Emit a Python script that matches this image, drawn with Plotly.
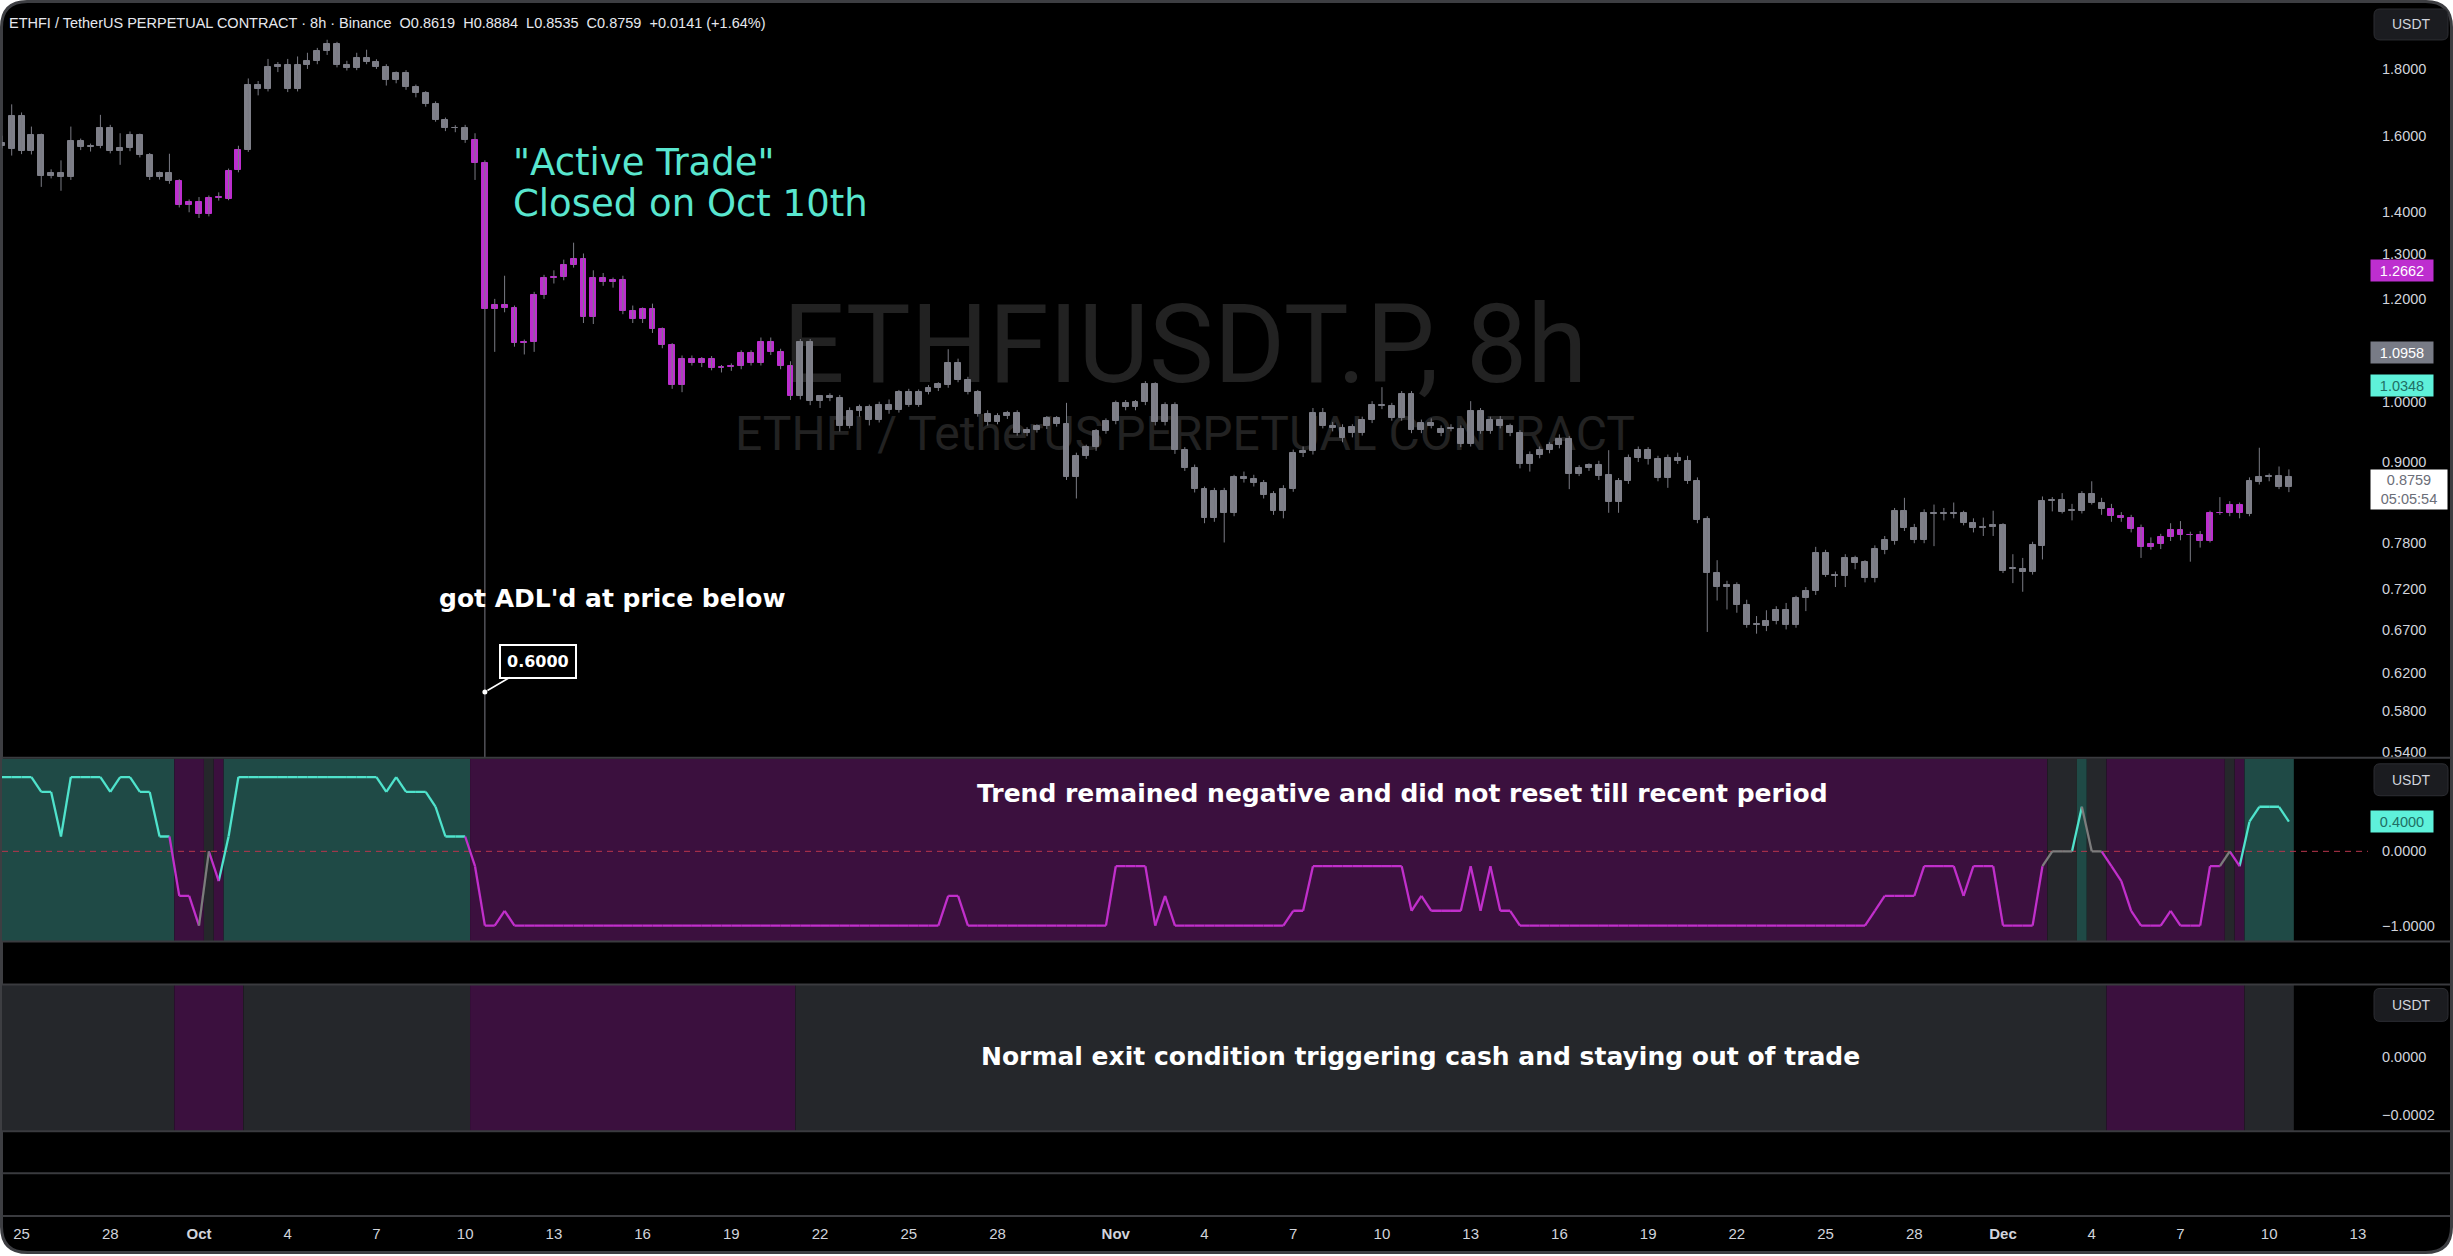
import math
import plotly.graph_objects as go
import pandas as pd

W, H = 2453, 1256

# ---------------- data ----------------
BAR_START = "2025-09-24 08:00"
BAR_FREQ = "8h"

opens = [
    1.580, 1.563, 1.658, 1.557, 1.601, 1.491, 1.497, 1.488, 1.584, 1.568,
    1.572, 1.623, 1.557, 1.565, 1.601, 1.547, 1.489, 1.497, 1.476, 1.417,
    1.424, 1.394, 1.434, 1.432, 1.505, 1.561, 1.751, 1.738, 1.807, 1.812,
    1.738, 1.812, 1.825, 1.858, 1.880, 1.812, 1.803, 1.836, 1.822, 1.807,
    1.765, 1.786, 1.744, 1.724, 1.693, 1.645, 1.623, 1.621, 1.588, 1.526,
    1.178, 1.187, 1.180, 1.110, 1.113, 1.209, 1.245, 1.247, 1.274, 1.287,
    1.162, 1.245, 1.236, 1.240, 1.175, 1.158, 1.178, 1.137, 1.106, 1.031,
    1.079, 1.072, 1.079, 1.063, 1.065, 1.066, 1.090, 1.072, 1.113, 1.093,
    1.066, 1.011, 1.112, 1.002, 1.011, 1.008, 0.959, 0.985, 0.991, 0.969,
    0.996, 0.987, 1.019, 0.996, 1.019, 1.026, 1.031, 1.072, 1.040, 1.018,
    0.980, 0.966, 0.976, 0.981, 0.947, 0.953, 0.959, 0.972, 0.962, 0.877,
    0.910, 0.924, 0.951, 0.968, 0.998, 0.991, 1.000, 1.032, 0.966, 0.996,
    0.919, 0.891, 0.858, 0.816, 0.855, 0.823, 0.876, 0.874, 0.867, 0.850,
    0.826, 0.859, 0.915, 0.918, 0.982, 0.959, 0.955, 0.947, 0.947, 0.969,
    0.995, 0.994, 0.972, 1.015, 0.952, 0.965, 0.954, 0.955, 0.954, 0.929,
    0.984, 0.951, 0.970, 0.959, 0.947, 0.897, 0.912, 0.920, 0.927, 0.938,
    0.882, 0.890, 0.8955, 0.879, 0.839, 0.870, 0.906, 0.919, 0.905, 0.875,
    0.907, 0.901, 0.871, 0.814, 0.740, 0.722, 0.724, 0.700, 0.675, 0.674,
    0.680, 0.693, 0.675, 0.708, 0.717, 0.766, 0.738, 0.736, 0.760, 0.754,
    0.733, 0.771, 0.783, 0.825, 0.801, 0.784, 0.8225, 0.8215, 0.8225, 0.822,
    0.809, 0.801, 0.802, 0.805, 0.745, 0.745, 0.742, 0.776, 0.840, 0.842,
    0.825, 0.826, 0.850, 0.837, 0.829, 0.819, 0.816, 0.801, 0.775, 0.779,
    0.788, 0.799, 0.792, 0.792, 0.783, 0.823, 0.822, 0.834, 0.821, 0.869,
    0.876, 0.878, 0.8619,
]
highs = [
    1.600, 1.691, 1.667, 1.626, 1.606, 1.508, 1.532, 1.626, 1.592, 1.578,
    1.660, 1.631, 1.607, 1.612, 1.606, 1.552, 1.502, 1.550, 1.482, 1.430,
    1.436, 1.440, 1.448, 1.510, 1.572, 1.770, 1.762, 1.832, 1.822, 1.832,
    1.840, 1.852, 1.868, 1.895, 1.888, 1.826, 1.852, 1.862, 1.831, 1.815,
    1.792, 1.796, 1.751, 1.731, 1.700, 1.652, 1.630, 1.631, 1.607, 1.532,
    1.200, 1.250, 1.186, 1.117, 1.215, 1.252, 1.262, 1.286, 1.325, 1.300,
    1.262, 1.256, 1.246, 1.250, 1.186, 1.182, 1.190, 1.141, 1.110, 1.086,
    1.086, 1.083, 1.085, 1.068, 1.071, 1.096, 1.096, 1.121, 1.121, 1.099,
    1.075, 1.118, 1.118, 1.013, 1.016, 1.013, 0.991, 0.996, 0.996, 1.001,
    1.005, 1.022, 1.024, 1.023, 1.031, 1.036, 1.098, 1.080, 1.046, 1.022,
    0.986, 0.981, 0.985, 0.986, 0.957, 0.962, 0.976, 0.976, 0.999, 0.915,
    0.928, 0.954, 0.972, 1.003, 1.004, 1.004, 1.038, 1.036, 1.000, 1.000,
    0.924, 0.896, 0.862, 0.860, 0.860, 0.880, 0.885, 0.880, 0.872, 0.855,
    0.864, 0.920, 0.925, 0.990, 0.990, 0.966, 0.962, 0.962, 0.975, 1.002,
    1.027, 0.999, 1.020, 1.020, 0.970, 0.972, 0.960, 0.962, 0.960, 1.002,
    0.990, 0.975, 0.976, 0.963, 0.952, 0.917, 0.925, 0.932, 0.945, 0.942,
    0.895, 0.898, 0.902, 0.919, 0.875, 0.912, 0.925, 0.924, 0.910, 0.912,
    0.915, 0.910, 0.876, 0.818, 0.757, 0.730, 0.728, 0.706, 0.686, 0.693,
    0.698, 0.702, 0.711, 0.722, 0.775, 0.771, 0.742, 0.765, 0.763, 0.757,
    0.777, 0.790, 0.830, 0.845, 0.807, 0.828, 0.835, 0.830, 0.838, 0.826,
    0.815, 0.816, 0.826, 0.808, 0.765, 0.760, 0.782, 0.847, 0.846, 0.852,
    0.836, 0.855, 0.870, 0.845, 0.836, 0.824, 0.820, 0.806, 0.788, 0.793,
    0.808, 0.811, 0.796, 0.797, 0.826, 0.846, 0.840, 0.838, 0.876, 0.923,
    0.882, 0.893, 0.8884,
]
lows = [
    1.565, 1.545, 1.549, 1.548, 1.462, 1.484, 1.452, 1.480, 1.560, 1.556,
    1.565, 1.551, 1.520, 1.557, 1.540, 1.480, 1.481, 1.470, 1.410, 1.398,
    1.384, 1.388, 1.427, 1.428, 1.500, 1.555, 1.718, 1.730, 1.790, 1.728,
    1.730, 1.800, 1.815, 1.845, 1.805, 1.795, 1.796, 1.815, 1.800, 1.748,
    1.755, 1.735, 1.712, 1.684, 1.640, 1.613, 1.610, 1.580, 1.480, 0.250,
    1.093, 1.172, 1.103, 1.088, 1.093, 1.200, 1.233, 1.240, 1.268, 1.150,
    1.148, 1.228, 1.224, 1.168, 1.150, 1.150, 1.130, 1.100, 1.024, 1.018,
    1.067, 1.064, 1.058, 1.054, 1.057, 1.060, 1.067, 1.067, 1.087, 1.060,
    1.004, 1.005, 0.995, 0.990, 1.002, 0.950, 0.955, 0.975, 0.960, 0.965,
    0.980, 0.982, 0.992, 0.992, 1.014, 1.020, 1.026, 1.036, 1.014, 0.975,
    0.960, 0.962, 0.971, 0.943, 0.942, 0.948, 0.954, 0.958, 0.872, 0.844,
    0.905, 0.918, 0.946, 0.962, 0.986, 0.986, 0.995, 0.960, 0.960, 0.913,
    0.886, 0.853, 0.808, 0.810, 0.781, 0.818, 0.868, 0.862, 0.844, 0.820,
    0.815, 0.854, 0.908, 0.912, 0.955, 0.950, 0.932, 0.940, 0.943, 0.964,
    0.988, 0.968, 0.968, 0.947, 0.947, 0.955, 0.942, 0.950, 0.924, 0.925,
    0.946, 0.946, 0.955, 0.942, 0.890, 0.885, 0.906, 0.914, 0.922, 0.858,
    0.878, 0.886, 0.872, 0.823, 0.823, 0.866, 0.900, 0.896, 0.870, 0.860,
    0.897, 0.866, 0.808, 0.667, 0.705, 0.694, 0.690, 0.672, 0.665, 0.668,
    0.676, 0.670, 0.672, 0.692, 0.712, 0.735, 0.722, 0.722, 0.745, 0.728,
    0.728, 0.765, 0.778, 0.797, 0.780, 0.780, 0.776, 0.812, 0.815, 0.805,
    0.795, 0.790, 0.790, 0.740, 0.727, 0.716, 0.738, 0.758, 0.825, 0.822,
    0.812, 0.822, 0.835, 0.820, 0.810, 0.810, 0.795, 0.760, 0.771, 0.772,
    0.783, 0.784, 0.755, 0.774, 0.781, 0.820, 0.818, 0.815, 0.818, 0.865,
    0.870, 0.858, 0.8535,
]
closes = [
    1.572, 1.658, 1.557, 1.601, 1.491, 1.497, 1.488, 1.584, 1.568, 1.572,
    1.623, 1.557, 1.565, 1.601, 1.547, 1.489, 1.497, 1.476, 1.417, 1.424,
    1.394, 1.434, 1.437, 1.503, 1.561, 1.751, 1.738, 1.807, 1.812, 1.738,
    1.812, 1.825, 1.858, 1.880, 1.812, 1.803, 1.836, 1.822, 1.807, 1.765,
    1.786, 1.744, 1.724, 1.693, 1.645, 1.623, 1.621, 1.588, 1.526, 1.178,
    1.187, 1.180, 1.110, 1.113, 1.209, 1.245, 1.247, 1.274, 1.287, 1.162,
    1.245, 1.236, 1.240, 1.175, 1.158, 1.178, 1.137, 1.106, 1.031, 1.079,
    1.072, 1.079, 1.063, 1.065, 1.066, 1.090, 1.072, 1.113, 1.093, 1.066,
    1.011, 1.112, 1.002, 1.011, 1.008, 0.959, 0.985, 0.991, 0.969, 0.996,
    0.987, 1.019, 0.996, 1.019, 1.026, 1.032, 1.072, 1.040, 1.018, 0.980,
    0.966, 0.976, 0.981, 0.947, 0.953, 0.959, 0.972, 0.962, 0.877, 0.910,
    0.924, 0.951, 0.968, 0.998, 0.991, 1.000, 1.032, 0.966, 0.996, 0.919,
    0.891, 0.858, 0.816, 0.855, 0.823, 0.876, 0.874, 0.867, 0.849, 0.826,
    0.859, 0.915, 0.918, 0.982, 0.959, 0.955, 0.939, 0.958, 0.969, 0.995,
    0.994, 0.972, 1.015, 0.952, 0.965, 0.959, 0.947, 0.954, 0.929, 0.984,
    0.951, 0.970, 0.959, 0.947, 0.897, 0.912, 0.920, 0.927, 0.938, 0.882,
    0.890, 0.895, 0.878, 0.839, 0.871, 0.907, 0.919, 0.905, 0.875, 0.907,
    0.901, 0.871, 0.813, 0.740, 0.722, 0.724, 0.700, 0.675, 0.676, 0.680,
    0.693, 0.675, 0.708, 0.717, 0.766, 0.738, 0.736, 0.760, 0.753, 0.733,
    0.772, 0.785, 0.825, 0.801, 0.784, 0.823, 0.8215, 0.8225, 0.8215, 0.808,
    0.801, 0.802, 0.805, 0.743, 0.746, 0.742, 0.778, 0.840, 0.842, 0.824,
    0.827, 0.850, 0.837, 0.829, 0.819, 0.816, 0.800, 0.775, 0.779, 0.788,
    0.799, 0.791, 0.791, 0.783, 0.823, 0.822, 0.834, 0.822, 0.871, 0.876,
    0.878, 0.8618, 0.8759,
]

# bar colouring state: g = in trade (grey), m = out of trade (magenta)
candle_state_runs = [("g", 18), ("m", 7), ("g", 23), ("m", 33), ("g", 133), ("m", 14), ("g", 5)]
# trend oscillator background state: g = positive, m = negative, n = neutral
trend_bg_runs = [("g", 18), ("m", 3), ("n", 1), ("m", 1), ("g", 25), ("m", 160), ("n", 3),
                 ("g", 1), ("n", 2), ("m", 12), ("n", 1), ("m", 1), ("g", 5)]
# exit-condition pane background: n = normal, m = exit/cash
exit_bg_runs = [("n", 18), ("m", 7), ("n", 23), ("m", 33), ("n", 133), ("m", 14), ("n", 5)]

trend_values = [
    1, 1, 1, 1, 0.8, 0.8, 0.2, 1, 1, 1,
    1, 0.8, 1, 1, 0.8, 0.8, 0.2, 0.2, -0.6, -0.6,
    -1, 0, -0.4, 0.2, 1, 1, 1, 1, 1, 1,
    1, 1, 1, 1, 1, 1, 1, 1, 1, 0.8,
    1, 0.8, 0.8, 0.8, 0.6, 0.2, 0.2, 0.2, -0.2, -1,
    -1, -0.8, -1, -1, -1, -1, -1, -1, -1, -1,
    -1, -1, -1, -1, -1, -1, -1, -1, -1, -1,
    -1, -1, -1, -1, -1, -1, -1, -1, -1, -1,
    -1, -1, -1, -1, -1, -1, -1, -1, -1, -1,
    -1, -1, -1, -1, -1, -1, -0.6, -0.6, -1, -1,
    -1, -1, -1, -1, -1, -1, -1, -1, -1, -1,
    -1, -1, -1, -0.2, -0.2, -0.2, -0.2, -1, -0.6, -1,
    -1, -1, -1, -1, -1, -1, -1, -1, -1, -1,
    -1, -0.8, -0.8, -0.2, -0.2, -0.2, -0.2, -0.2, -0.2, -0.2,
    -0.2, -0.2, -0.2, -0.8, -0.6, -0.8, -0.8, -0.8, -0.8, -0.2,
    -0.8, -0.2, -0.8, -0.8, -1, -1, -1, -1, -1, -1,
    -1, -1, -1, -1, -1, -1, -1, -1, -1, -1,
    -1, -1, -1, -1, -1, -1, -1, -1, -1, -1,
    -1, -1, -1, -1, -1, -1, -1, -1, -1, -1,
    -0.8, -0.6, -0.6, -0.6, -0.6, -0.2, -0.2, -0.2, -0.2, -0.6,
    -0.2, -0.2, -0.2, -1, -1, -1, -1, -0.2, 0, 0,
    0, 0.6, 0, 0, -0.2, -0.4, -0.8, -1, -1, -1,
    -0.8, -1, -1, -1, -0.2, -0.2, 0, -0.2, 0.4, 0.6,
    0.6, 0.6, 0.4,
]

adl_bar_index = 49
adl_price = 0.6

price_ticks = [0.54, 0.58, 0.62, 0.67, 0.72, 0.78, 0.90, 1.00, 1.20, 1.30, 1.40, 1.60, 1.80]
price_tick_text = ["0.5400", "0.5800", "0.6200", "0.6700", "0.7200", "0.7800", "0.9000",
                   "1.0000", "1.2000", "1.3000", "1.4000", "1.6000", "1.8000"]
x_tick_dates = ["2025-09-25", "2025-09-28", "2025-10-01", "2025-10-04", "2025-10-07", "2025-10-10",
                "2025-10-13", "2025-10-16", "2025-10-19", "2025-10-22", "2025-10-25", "2025-10-28",
                "2025-11-01", "2025-11-04", "2025-11-07", "2025-11-10", "2025-11-13", "2025-11-16",
                "2025-11-19", "2025-11-22", "2025-11-25", "2025-11-28", "2025-12-01", "2025-12-04",
                "2025-12-07", "2025-12-10", "2025-12-13"]
x_tick_text = ["25", "28", "<b>Oct</b>", "4", "7", "10", "13", "16", "19", "22", "25", "28",
               "<b>Nov</b>", "4", "7", "10", "13", "16", "19", "22", "25", "28",
               "<b>Dec</b>", "4", "7", "10", "13"]

header_text = ("ETHFI / TetherUS PERPETUAL CONTRACT · 8h · Binance\u00a0\u00a0O0.8619\u00a0\u00a0H0.8884"
               "\u00a0\u00a0L0.8535\u00a0\u00a0C0.8759\u00a0\u00a0+0.0141 (+1.64%)")

# ---------------- styling / geometry ----------------
C_GREY = "#7e7f88"
C_MAG = "#bd2ecf"
C_WICK = "#7a7b84"
C_TEAL = "#4fe3cc"
C_LMAG = "#c12fcb"
C_LGREY = "#7c7c7c"
BG = {"g": "#1f4a46", "m": "#3b103e", "n": "#25272b"}
LINE_COL = {"g": C_TEAL, "m": C_LMAG, "n": C_LGREY}
AX_FONT = "Liberation Sans"
AX_COL = "#d1d4dc"

PANE_L, PANE_R = 2, 2368
PRICE_T, PRICE_B = 3, 759
OSC_T, OSC_B = 760, 943
EXIT_T, EXIT_B = 986, 1133
XAXIS_Y = 1218


def fx(px):
    return px / W


def fy(py):
    return 1 - py / H


def expand(runs):
    out = []
    for s, n in runs:
        out.extend([s] * n)
    return out


OCT1 = pd.Timestamp("2025-10-01")
PX_PER_DAY = 29.574


def px2t(px):
    return OCT1 + pd.Timedelta(days=(px - 199) / PX_PER_DAY)


def log_at(py):
    return 0.2553 - (py - 69) / 1308


times = pd.date_range(BAR_START, periods=len(opens), freq=BAR_FREQ)
half = pd.Timedelta(hours=4)
candle_state = expand(candle_state_runs)
trend_state = expand(trend_bg_runs)
exit_state = expand(exit_bg_runs)

fig = go.Figure()


def rrect_path(x0, y0, x1, y1, r):
    P = lambda x, y: f"{x / W:.6f},{1 - y / H:.6f}"
    return (f"M {P(x0 + r, y0)} L {P(x1 - r, y0)} Q {P(x1, y0)} {P(x1, y0 + r)} "
            f"L {P(x1, y1 - r)} Q {P(x1, y1)} {P(x1 - r, y1)} L {P(x0 + r, y1)} "
            f"Q {P(x0, y1)} {P(x0, y1 - r)} L {P(x0, y0 + r)} Q {P(x0, y0)} {P(x0 + r, y0)} Z")


# frame (rounded black card)
fig.add_shape(type="path", xref="paper", yref="paper", path=rrect_path(1.5, 1.5, 2451.5, 1254.5, 26),
              fillcolor="#000000", line=dict(color="#3d3e42", width=3), layer="below")

# watermark (below the candles)
fig.add_shape(type="rect", xref="paper", yref="paper", x0=fx(500), x1=fx(1870), y0=fy(390), y1=fy(286),
              line=dict(width=0), fillcolor="rgba(0,0,0,0)", layer="below",
              label=dict(text="ETHFIUSDT.P, 8h", textposition="middle center",
                         font=dict(family="Roboto", size=109, color="#222222")))
fig.add_shape(type="rect", xref="paper", yref="paper", x0=fx(500), x1=fx(1870), y0=fy(458), y1=fy(404),
              line=dict(width=0), fillcolor="rgba(0,0,0,0)", layer="below",
              label=dict(text="ETHFI / TetherUS PERPETUAL CONTRACT", textposition="middle center",
                         font=dict(family="Roboto", size=48, color="#222222")))


# pane backgrounds
def add_bg(states, yref):
    start = 0
    for i in range(1, len(states) + 1):
        if i == len(states) or states[i] != states[start]:
            fig.add_shape(type="rect", xref="x", yref=yref, x0=times[start] - half, x1=times[i - 1] + half,
                          y0=0, y1=1, fillcolor=BG[states[start]], line=dict(width=0), layer="below")
            start = i


add_bg(trend_state, "y2 domain")
add_bg(exit_state, "y3 domain")

# zero dashed line in oscillator pane
fig.add_shape(type="line", xref="x domain", yref="y2", x0=0, x1=1, y0=0, y1=0,
              line=dict(color="#b8364c", width=1, dash="6px,5px"), layer="below")

# separators
for yy in [PRICE_B, OSC_B, EXIT_T, EXIT_B, 1175, XAXIS_Y]:
    fig.add_shape(type="line", xref="paper", yref="paper", x0=fx(2), x1=fx(2451), y0=fy(yy), y1=fy(yy),
                  line=dict(color="#3a3b3f", width=2))

# ---------------- price candles ----------------
wx, wy = [], []
for t, lo, hi in zip(times, lows, highs):
    wx += [t, t, None]
    wy += [lo, hi, None]
fig.add_trace(go.Scatter(x=wx, y=wy, mode="lines", line=dict(color=C_WICK, width=1),
                         hoverinfo="skip", xaxis="x", yaxis="y"))

for state, col in [("g", C_GREY), ("m", C_MAG)]:
    idx = [i for i, s in enumerate(candle_state) if s == state]
    base = [min(opens[i], closes[i]) for i in idx]
    size = [abs(closes[i] - opens[i]) for i in idx]
    fig.add_trace(go.Bar(x=[times[i] for i in idx], y=size, base=base,
                         width=0.60 * 8 * 3600 * 1000,
                         marker=dict(color=col, line=dict(color=col, width=1)),
                         hoverinfo="skip", xaxis="x", yaxis="y"))

# ADL marker point
fig.add_trace(go.Scatter(x=[times[adl_bar_index]], y=[adl_price], mode="markers",
                         marker=dict(color="#ffffff", size=5), hoverinfo="skip", xaxis="x", yaxis="y"))

# ---------------- trend oscillator ----------------
for state in ["g", "m", "n"]:
    xs, ys = [], []
    for i in range(1, len(trend_values)):
        if trend_state[i] == state:
            xs += [times[i - 1], times[i], None]
            ys += [trend_values[i - 1], trend_values[i], None]
    fig.add_trace(go.Scatter(x=xs, y=ys, mode="lines", line=dict(color=LINE_COL[state], width=2.3),
                             hoverinfo="skip", xaxis="x", yaxis="y2"))

# invisible trace so the third pane's axis renders
fig.add_trace(go.Scatter(x=[times[0]], y=[0], mode="markers", marker=dict(size=2, opacity=0),
                         hoverinfo="skip", xaxis="x", yaxis="y3"))

# ---------------- layout ----------------
yax_common = dict(side="right", anchor="x", showgrid=False, zeroline=False, showline=False,
                  ticks="", ticklabelstandoff=13, tickfont=dict(family=AX_FONT, size=14.5, color=AX_COL),
                  fixedrange=True)

fig.update_layout(
    width=W, height=H, margin=dict(l=0, r=0, t=0, b=0),
    paper_bgcolor="#ffffff", plot_bgcolor="rgba(0,0,0,0)",
    showlegend=False, barmode="overlay", bargap=0, hovermode=False,
    xaxis=dict(type="date", domain=[fx(PANE_L), fx(PANE_R)], range=[px2t(PANE_L), px2t(PANE_R)],
               anchor="free", position=fy(XAXIS_Y), showgrid=False, zeroline=False, showline=False,
               tickvals=x_tick_dates, ticktext=x_tick_text, ticks="", ticklabelstandoff=7,
               tickfont=dict(family=AX_FONT, size=15, color=AX_COL), rangeslider=dict(visible=False)),
    yaxis=dict(type="log", domain=[fy(PRICE_B), fy(PRICE_T)],
               range=[log_at(PRICE_B), log_at(PRICE_T)],
               tickvals=price_ticks, ticktext=price_tick_text, **yax_common),
    yaxis2=dict(domain=[fy(OSC_B), fy(OSC_T)], range=[-(OSC_B - 852.7) / 74.4, (852.7 - OSC_T) / 74.4],
                tickvals=[0, -1], ticktext=["0.0000", "\u22121.0000"], **yax_common),
    yaxis3=dict(domain=[fy(EXIT_B), fy(EXIT_T)],
                range=[-(EXIT_B - 1059) / 58 * 0.0002, (1059 - EXIT_T) / 58 * 0.0002],
                tickvals=[0, -0.0002], ticktext=["0.0000", "\u22120.0002"], **yax_common),
)


# ---------------- texts ----------------
def note(x, y, text, size, color, family="DejaVu Sans", xanchor="left", **kw):
    fig.add_annotation(x=fx(x), y=fy(y), xref="paper", yref="paper", text=text, showarrow=False,
                       font=dict(size=size, color=color, family=family), xanchor=xanchor,
                       yanchor="middle", **kw)


note(7, 23, header_text, 14.5, "#e6e8ee", family=AX_FONT)
note(511, 163, "\"Active Trade\"", 37, "#59e6cf")
note(511, 204, "Closed on Oct 10th", 37, "#59e6cf")
note(437, 599, "<b>got ADL'd at price below</b>", 25, "#ffffff")
note(1402, 795, "<b>Trend remained negative and did not reset till recent period</b>", 25, "#ffffff",
     xanchor="center")
note(1420, 1058, "<b>Normal exit condition triggering cash and staying out of trade</b>", 25, "#ffffff",
     xanchor="center")

# ADL callout (annotation y is given in log10 units on a log axis)
fig.add_annotation(x=times[adl_bar_index], y=math.log10(adl_price), xref="x", yref="y",
                   text="<b>0.6000</b>", showarrow=True, arrowhead=0, arrowwidth=1.5, arrowcolor="#ffffff",
                   ax=53, ay=-31, font=dict(size=16, color="#ffffff", family="DejaVu Sans"),
                   bgcolor="#000000", bordercolor="#ffffff", borderwidth=2, borderpad=6, standoff=3)


# price-scale value labels
def scale_label(y_center, text, bg, fg, h=21, w=62):
    fig.add_annotation(x=fx(2370), y=fy(y_center), xref="paper", yref="paper", text=text, showarrow=False,
                       xanchor="left", yanchor="middle", width=w, height=h, bgcolor=bg, borderpad=0,
                       align="center", font=dict(size=14.5, color=fg, family=AX_FONT))


scale_label(270.5, "1.2662", C_MAG, "#ffffff")
scale_label(353.5, "1.0958", "#787b86", "#ffffff")
scale_label(386, "1.0348", "#5ef1da", "#1f6f64")
scale_label(490.5, "0.8759<br>05:05:54", "#ffffff", "#6b6e78", h=39, w=76)
scale_label(822.5, "0.4000", "#5ef1da", "#1f6f64")

# USDT buttons
for (y0, y1) in [(9, 40), (765, 797), (990, 1023)]:
    fig.add_shape(type="path", xref="paper", yref="paper", path=rrect_path(2374, y0, 2448, y1, 6),
                  fillcolor="#1b1c20", line=dict(color="#2c2d32", width=1))
    note(2411, (y0 + y1) / 2, "USDT", 14, AX_COL, family=AX_FONT, xanchor="center")

fig.write_html("out.html", config={"displayModeBar": False},
               post_script="document.body.style.margin='0px';document.body.style.overflow='hidden';")
